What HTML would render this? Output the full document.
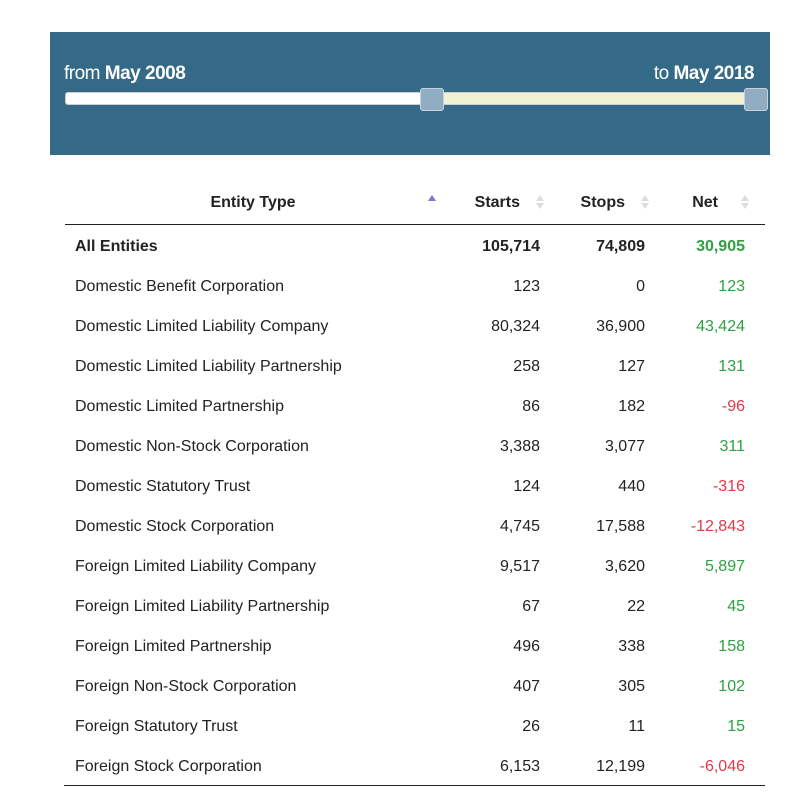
<!DOCTYPE html>
<html><head><meta charset="utf-8">
<style>
body{margin:0;width:800px;height:800px;background:#fff;position:relative;font-family:"Liberation Sans",sans-serif;color:#222;overflow:hidden}
.abs{position:absolute}
#panel{left:50px;top:32px;width:720px;height:123px;background:#346a87}
.lbl{color:#fff;font-size:19px;top:31px;letter-spacing:-0.5px}
.cell{position:absolute;font-size:16px;white-space:nowrap;line-height:20px}
.sort{position:absolute;width:0;height:0;border-left:4px solid transparent;border-right:4px solid transparent}
</style></head><body>
<div id="panel" class="abs">
  <div class="abs lbl" style="left:14px">from <b>May 2008</b></div>
  <div class="abs lbl" style="right:16px">to <b>May 2018</b></div>
  <div class="abs" style="left:15px;top:60px;width:370px;height:13px;background:#fff;border:1px solid #ccc;border-radius:3px;box-sizing:border-box"></div>
  <div class="abs" style="left:385px;top:60px;width:320px;height:13px;background:#f1f2d2;border:1px solid #ccc;box-sizing:border-box"></div>
  <div class="abs" style="left:370px;top:56px;width:24px;height:23px;background:#91adc3;border:1px solid #c8d2da;border-radius:3px;box-sizing:border-box"></div>
  <div class="abs" style="left:694px;top:56px;width:24px;height:23px;background:#91adc3;border:1px solid #c8d2da;border-radius:3px;box-sizing:border-box"></div>
</div>
<div id="table"></div>
<script>
const entities=["All Entities","Domestic Benefit Corporation","Domestic Limited Liability Company","Domestic Limited Liability Partnership","Domestic Limited Partnership","Domestic Non-Stock Corporation","Domestic Statutory Trust","Domestic Stock Corporation","Foreign Limited Liability Company","Foreign Limited Liability Partnership","Foreign Limited Partnership","Foreign Non-Stock Corporation","Foreign Statutory Trust","Foreign Stock Corporation"];
const starts=[105714,123,80324,258,86,3388,124,4745,9517,67,496,407,26,6153];
const stops=[74809,0,36900,127,182,3077,440,17588,3620,22,338,305,11,12199];
const nets=[30905,123,43424,131,-96,311,-316,-12843,5897,45,158,102,15,-6046];
const headers=["Entity Type","Starts","Stops","Net"];
const T=document.getElementById('table');
function fmt(v){return v.toLocaleString('en-US');}
function add(html,style,name,inter){const d=document.createElement('div');d.className='cell';d.innerHTML=html;d.style.cssText=style;


T.appendChild(d);return d;}
add(headers[0],'left:153px;top:193px;width:200px;text-align:center;font-weight:bold','header-entity-type','true');
add(headers[1],'left:420px;top:193px;width:100px;text-align:right;font-weight:bold','header-starts','true');
add(headers[2],'left:525px;top:193px;width:100px;text-align:right;font-weight:bold','header-stops','true');
add(headers[3],'left:618px;top:193px;width:100px;text-align:right;font-weight:bold','header-net','true');
function sortIcon(x,active,name){
  const up=document.createElement('div');up.className='sort';
  up.style.cssText='left:'+x+'px;top:195px;border-bottom:6px solid '+(active?'#7777dd':'#ddd');
  
  
  T.appendChild(up);
  if(!active){const dn=document.createElement('div');dn.className='sort';
  dn.style.cssText='left:'+x+'px;top:203px;border-top:6px solid #ddd';
  
  
  T.appendChild(dn);}
}
sortIcon(428,true,'sort-entity-type');sortIcon(536,false,'sort-starts');sortIcon(641,false,'sort-stops');sortIcon(741,false,'sort-net');
const hl=document.createElement('div');hl.style.cssText='position:absolute;left:65px;top:224px;width:700px;height:1px;background:#222';


T.appendChild(hl);
entities.forEach((e,i)=>{
  const y=237+i*40;const b=i===0?'font-weight:bold;':'';
  add(e,b+'left:75px;top:'+y+'px','row-'+i+'-entity','false');
  add(fmt(starts[i]),b+'left:420px;width:120px;text-align:right;top:'+y+'px','row-'+i+'-starts','false');
  add(fmt(stops[i]),b+'left:525px;width:120px;text-align:right;top:'+y+'px','row-'+i+'-stops','false');
  add(fmt(nets[i]),b+'left:625px;width:120px;text-align:right;top:'+y+'px;color:'+(nets[i]<0?'#e0394a':'#2fa043'),'row-'+i+'-net','false');
});
const bl=document.createElement('div');bl.style.cssText='position:absolute;left:64px;top:785px;width:701px;height:1px;background:#222';


T.appendChild(bl);
</script>
</body></html>
